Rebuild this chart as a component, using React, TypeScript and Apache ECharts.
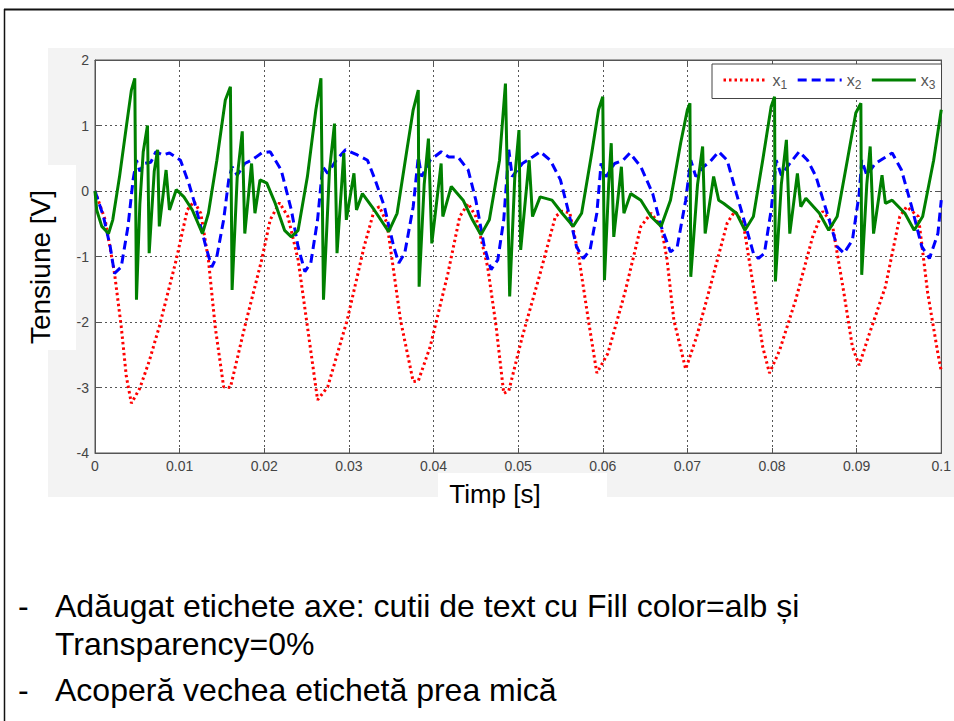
import React, { useEffect, useRef } from 'react';
import * as echarts from 'echarts';

const FONT = '"Liberation Sans", Arial, Helvetica, sans-serif';

const seriesNames = ['x₁', 'x₂', 'x₃'];
const legendSub: Record<string, string> = { 'x₁': '1', 'x₂': '2', 'x₃': '3' };
const seriesColors = ['#ff0000', '#0000ff', '#008000'];

const xMin = 0;
const xMax = 0.1;
const xStep = 0.01;
const yMin = -4;
const yMax = 2;
const yStep = 1;

const xAxisTitle = 'Timp [s]';
const yAxisTitle = 'Tensiune [V]';
const bulletLines = [
  { dash: true, text: 'Adăugat etichete axe: cutii de text cu Fill color=alb și' },
  { dash: false, text: 'Transparency=0%' },
  { dash: true, text: 'Acoperă vechea etichetă prea mică' },
];

// x1 (red, dotted)
const x1Points: [number, number][] = [
  [0, 0], [0.0012, -0.44], [0.0023, -1.25], [0.0031, -2.07], [0.0037, -2.83], [0.0043, -3.24],
  [0.0053, -3.01], [0.0064, -2.6], [0.0076, -2.07], [0.0096, -1.05], [0.0109, -0.29], [0.0117, -0.16],
  [0.0125, -0.34], [0.0134, -1.05], [0.0142, -2.07], [0.0152, -2.99], [0.016, -3.0], [0.0177, -2.07],
  [0.0197, -1.05], [0.0207, -0.44], [0.0218, -0.18], [0.0228, -0.39], [0.024, -1.05], [0.0251, -2.07],
  [0.0263, -3.19], [0.0275, -2.99], [0.0298, -1.97], [0.0318, -0.85], [0.033, -0.29], [0.0336, -0.24],
  [0.0345, -0.49], [0.0361, -1.97], [0.0376, -2.91], [0.0382, -2.9], [0.0396, -2.38], [0.0417, -1.26],
  [0.0431, -0.39], [0.0441, -0.19], [0.045, -0.39], [0.0464, -1.16], [0.0474, -2.07], [0.0483, -3.09],
  [0.0489, -3.05], [0.0505, -2.22], [0.0526, -1.26], [0.0544, -0.39], [0.0552, -0.31], [0.0561, -0.33],
  [0.0571, -0.95], [0.0583, -1.97], [0.0593, -2.78], [0.0606, -2.48], [0.0626, -1.56], [0.0645, -0.54],
  [0.0657, -0.34], [0.0669, -0.54], [0.0676, -1.05], [0.0684, -1.97], [0.0698, -2.72], [0.0711, -2.22],
  [0.0727, -1.46], [0.0747, -0.49], [0.0756, -0.31], [0.0766, -0.49], [0.0778, -1.46], [0.0789, -2.38],
  [0.0797, -2.78], [0.0809, -2.43], [0.0828, -1.66], [0.0848, -0.7], [0.086, -0.31], [0.0871, -0.49],
  [0.0885, -1.56], [0.0895, -2.38], [0.0903, -2.66], [0.0914, -2.22], [0.0934, -1.46], [0.0951, -0.39],
  [0.0959, -0.24], [0.0973, -0.39], [0.0984, -1.56], [0.0996, -2.48], [0.1, -2.75],
];

// x2 (blue, dashed)
const x2Points: [number, number][] = [
  [0, 0], [0.001, -0.39], [0.0018, -0.85], [0.0023, -1.26], [0.0031, -1.16], [0.0039, -0.54],
  [0.0045, 0.17], [0.0049, 0.47], [0.0053, 0.3], [0.0058, 0.42], [0.0066, 0.44], [0.0072, 0.6],
  [0.008, 0.55], [0.0088, 0.58], [0.0101, 0.47], [0.0111, 0.11], [0.0119, -0.24], [0.0131, -0.85],
  [0.0138, -1.16], [0.0144, -1.0], [0.0152, -0.44], [0.0158, 0.17], [0.0162, 0.37], [0.0168, 0.24],
  [0.0177, 0.42], [0.0185, 0.47], [0.0197, 0.58], [0.0207, 0.6], [0.022, 0.32], [0.0232, -0.29],
  [0.024, -0.85], [0.0248, -1.23], [0.0255, -1.1], [0.0263, -0.44], [0.0269, 0.37], [0.0275, 0.27],
  [0.0285, 0.47], [0.0296, 0.63], [0.031, 0.55], [0.0322, 0.47], [0.0331, 0.17], [0.0342, -0.24],
  [0.0353, -0.85], [0.0359, -1.1], [0.0366, -0.95], [0.0376, -0.24], [0.0382, 0.52], [0.0386, 0.22],
  [0.0396, 0.47], [0.0409, 0.6], [0.0418, 0.52], [0.0429, 0.52], [0.0441, 0.32], [0.045, -0.14],
  [0.046, -0.85], [0.0468, -1.2], [0.0476, -1.05], [0.0483, -0.44], [0.0489, 0.63], [0.0493, 0.22],
  [0.0505, 0.42], [0.0517, 0.52], [0.0526, 0.6], [0.0538, 0.47], [0.055, 0.17], [0.0559, -0.29],
  [0.0569, -0.85], [0.0577, -1.03], [0.0585, -0.9], [0.0593, -0.34], [0.0598, 0.42], [0.0604, 0.22],
  [0.0614, 0.42], [0.0624, 0.47], [0.0632, 0.58], [0.0645, 0.37], [0.0659, -0.04], [0.0669, -0.54],
  [0.068, -0.93], [0.0688, -0.85], [0.0698, -0.14], [0.0704, 0.47], [0.071, 0.22], [0.0719, 0.37],
  [0.0727, 0.45], [0.0737, 0.6], [0.0747, 0.47], [0.0758, -0.04], [0.0768, -0.49], [0.0778, -0.95],
  [0.0784, -1.03], [0.0791, -0.95], [0.0799, -0.29], [0.0805, 0.47], [0.0811, 0.24], [0.0821, 0.42],
  [0.0832, 0.6], [0.0842, 0.47], [0.0852, 0.22], [0.0864, -0.29], [0.0877, -0.85], [0.0885, -0.95],
  [0.0895, -0.75], [0.0903, -0.04], [0.0906, 0.47], [0.0912, 0.24], [0.0922, 0.42], [0.0932, 0.5],
  [0.0942, 0.58], [0.0953, 0.32], [0.0965, -0.24], [0.0977, -0.85], [0.0986, -1.03], [0.0996, -0.65],
  [0.1, -0.14],
];

// x3 (green, solid)
const x3Points: [number, number][] = [
  [0, 0], [0.0002, -0.29], [0.0008, -0.54], [0.0016, -0.65], [0.0021, -0.44], [0.0029, 0.22],
  [0.0037, 0.98], [0.0043, 1.54], [0.0047, 1.72], [0.0049, -1.66], [0.0053, -0.2], [0.0057, 0.6],
  [0.0062, 1.0], [0.0064, -0.95], [0.007, 0.3], [0.0074, 0.63], [0.0076, -0.54], [0.0084, 0.32],
  [0.0088, -0.29], [0.0096, 0.02], [0.0105, -0.09], [0.0115, -0.29], [0.0127, -0.65], [0.0134, -0.34],
  [0.0144, 0.47], [0.0154, 1.39], [0.016, 1.59], [0.0162, -1.51], [0.0168, 0.2], [0.0174, 0.91],
  [0.0177, -0.65], [0.0185, 0.42], [0.0189, -0.34], [0.0195, 0.17], [0.0203, 0.12], [0.0213, -0.19],
  [0.0224, -0.6], [0.0232, -0.7], [0.024, -0.6], [0.0251, 0.22], [0.0261, 1.24], [0.0267, 1.72],
  [0.027, -1.66], [0.0277, 0.3], [0.0283, 1.03], [0.0286, -0.95], [0.0294, 0.58], [0.0297, -0.44],
  [0.0306, 0.27], [0.0309, -0.29], [0.0316, -0.04], [0.033, -0.29], [0.0347, -0.62], [0.0357, -0.34],
  [0.0368, 0.58], [0.0376, 1.24], [0.0382, 1.54], [0.0383, -1.46], [0.0389, 0.1], [0.0394, 0.8],
  [0.0398, -0.8], [0.0409, 0.42], [0.0411, -0.39], [0.0421, 0.07], [0.0435, -0.14], [0.0446, -0.44],
  [0.0456, -0.67], [0.0466, -0.44], [0.0478, 0.47], [0.0485, 1.64], [0.049, -1.61], [0.0496, 0.2],
  [0.0501, 0.93], [0.0503, -0.9], [0.0513, 0.47], [0.0517, -0.39], [0.0526, -0.09], [0.054, -0.14],
  [0.0552, -0.34], [0.0565, -0.54], [0.0575, -0.34], [0.0587, 0.58], [0.0595, 1.24], [0.06, 1.44],
  [0.0602, -1.36], [0.0607, 0.1], [0.061, 0.73], [0.0613, -0.7], [0.0622, 0.37], [0.0625, -0.34],
  [0.0633, -0.04], [0.0645, -0.14], [0.0657, -0.39], [0.0669, -0.54], [0.068, -0.14], [0.0692, 0.73],
  [0.07, 1.24], [0.0703, 1.34], [0.0704, -1.31], [0.0712, 0.1], [0.0718, 0.68], [0.0721, -0.65],
  [0.0731, 0.22], [0.0737, -0.14], [0.0743, -0.19], [0.0758, -0.34], [0.0768, -0.6], [0.0778, -0.39],
  [0.0789, 0.47], [0.0799, 1.29], [0.0803, 1.44], [0.0804, -1.38], [0.0811, 0.1], [0.0817, 0.78],
  [0.0821, -0.65], [0.083, 0.27], [0.0834, -0.24], [0.084, -0.11], [0.0856, -0.34], [0.0867, -0.6],
  [0.0877, -0.39], [0.0889, 0.47], [0.0899, 1.19], [0.0905, 1.34], [0.0906, -1.28], [0.0912, 0.1],
  [0.0916, 0.68], [0.092, -0.65], [0.093, 0.24], [0.0934, -0.19], [0.0942, -0.14], [0.0957, -0.34],
  [0.0968, -0.6], [0.0978, -0.39], [0.0991, 0.47], [0.1, 1.24],
];

const seriesData = [x1Points, x2Points, x3Points];
const seriesDash: any[] = [[2.5, 3], [9, 5], 'solid'];

export default function App() {
  const ref = useRef<HTMLDivElement>(null);

  useEffect(() => {
    document.body.style.margin = '0';
    const chart = echarts.init(ref.current!, null, { renderer: 'svg' });
    const axisColor = '#555';
    const gridCommon = {
      type: 'value' as const,
      axisLine: { show: true, onZero: false, lineStyle: { color: axisColor, width: 1 } },
      axisTick: { show: true, inside: true, length: 5, lineStyle: { color: axisColor } },
    };
    const option: any = {
      animation: false,
      backgroundColor: 'transparent',
      textStyle: { fontFamily: FONT },
      grid: {
        left: 95, right: 4, top: 60, bottom: 268,
        show: true, backgroundColor: '#ffffff', borderColor: axisColor, borderWidth: 1,
        containLabel: false,
      },
      legend: {
        left: 712, top: 64,
        orient: 'horizontal',
        itemWidth: 44, itemHeight: 14, itemGap: 9,
        padding: [8, 6, 8, 10],
        backgroundColor: '#ffffff', borderColor: '#444', borderWidth: 1, borderRadius: 0,
        itemStyle: { opacity: 0 },
        lineStyle: { width: 3 },
        textStyle: {
          color: '#555', fontSize: 16, fontFamily: FONT,
          rich: {
            x: { fontSize: 16, color: '#555', fontFamily: FONT },
            s: { fontSize: 12, color: '#555', fontFamily: FONT, padding: [9, 0, 0, 0] },
          },
        },
        formatter: (name: string) => `{x|x}{s|${legendSub[name] ?? ''}}`,
        data: seriesNames,
      },
      xAxis: [
        {
          ...gridCommon, min: xMin, max: xMax, interval: xStep, position: 'bottom',
          axisLabel: {
            color: '#444', fontSize: 14, margin: 6, fontFamily: FONT,
            formatter: (v: number) => String(Number(v.toFixed(2))),
          },
          splitLine: { show: true, lineStyle: { color: '#555', type: [2, 3], width: 1 } },
        },
        {
          ...gridCommon, min: xMin, max: xMax, interval: xStep, position: 'top',
          axisLabel: { show: false }, splitLine: { show: false },
        },
      ],
      yAxis: [
        {
          ...gridCommon, min: yMin, max: yMax, interval: yStep, position: 'left',
          axisLabel: { color: '#444', fontSize: 14, margin: 6, fontFamily: FONT },
          splitLine: { show: true, lineStyle: { color: '#555', type: [2, 3], width: 1 } },
        },
        {
          ...gridCommon, min: yMin, max: yMax, interval: yStep, position: 'right',
          axisLabel: { show: false }, splitLine: { show: false },
        },
      ],
      series: seriesNames.map((name, i) => ({
        name,
        type: 'line',
        xAxisIndex: 0,
        yAxisIndex: 0,
        data: seriesData[i],
        symbol: 'none',
        showSymbol: false,
        smooth: false,
        color: seriesColors[i],
        lineStyle: { color: seriesColors[i], width: 3, type: seriesDash[i] },
        z: 2 + i,
      })),
      graphic: [
        { type: 'rect', z: -10, silent: true, shape: { x: 48, y: 48, width: 906, height: 449 }, style: { fill: '#f3f3f3' } },
        { type: 'rect', z: -9, silent: true, shape: { x: 8, y: 165, width: 68, height: 185 }, style: { fill: '#ffffff' } },
        { type: 'rect', z: -9, silent: true, shape: { x: 438, y: 473, width: 169, height: 40 }, style: { fill: '#ffffff' } },
        {
          type: 'text', z: 10, x: 40, y: 267, rotation: Math.PI / 2,
          style: { text: yAxisTitle, font: `28px ${FONT}`, fill: '#000', textAlign: 'center', textVerticalAlign: 'middle' },
        },
        {
          type: 'text', z: 10, x: 495, y: 494,
          style: { text: xAxisTitle, font: `26px ${FONT}`, fill: '#000', textAlign: 'center', textVerticalAlign: 'middle' },
        },
        { type: 'line', z: 10, shape: { x1: 4, y1: 9.5, x2: 954, y2: 9.5 }, style: { stroke: '#111', lineWidth: 2 } },
        { type: 'line', z: 10, shape: { x1: 4.5, y1: 9, x2: 4.5, y2: 721 }, style: { stroke: '#111', lineWidth: 1.5 } },
        ...bulletLines.flatMap((b, i) => {
          const y = [606, 644, 690][i];
          const items: any[] = [
            {
              type: 'text', z: 10, x: 55, y,
              style: { text: b.text, font: `32px ${FONT}`, fill: '#000', textAlign: 'left', textVerticalAlign: 'middle' },
            },
          ];
          if (b.dash) {
            items.push({
              type: 'text', z: 10, x: 18, y,
              style: { text: '-', font: `32px ${FONT}`, fill: '#000', textAlign: 'left', textVerticalAlign: 'middle' },
            });
          }
          return items;
        }),
      ],
    };
    chart.setOption(option);
    return () => chart.dispose();
  }, []);

  return (
    <div
      ref={ref}
      style={{ position: 'fixed', left: 0, top: 0, width: 954, height: 721, background: '#ffffff' }}
    />
  );
}
